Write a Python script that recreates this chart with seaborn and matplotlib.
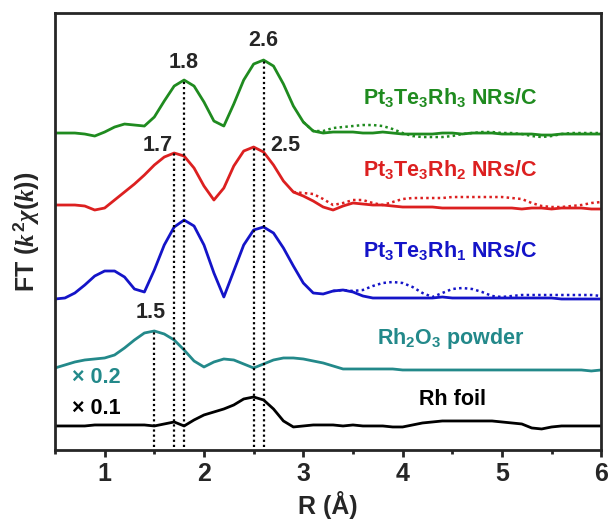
import numpy as np
import seaborn as sns
from matplotlib import pyplot as plt

sns.set_style('ticks')
plt.rcParams['font.family'] = ['Liberation Sans Narrow', 'Liberation Sans', 'DejaVu Sans']
plt.rcParams['font.weight'] = 'bold'
plt.rcParams['mathtext.fontset'] = 'custom'
plt.rcParams['mathtext.rm'] = 'Liberation Sans:bold'
plt.rcParams['mathtext.bf'] = 'Liberation Sans:bold'
plt.rcParams['mathtext.it'] = 'Liberation Serif:bold:italic'
plt.rcParams['lines.solid_joinstyle'] = 'round'

# R grid (Å), 0.5 .. 6.0
r = np.round(np.arange(0.5, 6.01, 0.1), 2)

# FT magnitudes, offset stacked (a.u.)
green = [317, 317, 317, 316, 314, 318,
         323, 326, 325, 324, 333, 349, 364, 370, 364, 348,
         329, 324, 346, 370, 386, 390, 384, 366, 344, 328,
         319, 317, 318, 318, 318, 317, 317, 318, 317, 316,
         316, 316, 316, 317, 317, 316, 317, 317, 317, 316,
         316, 316, 316, 315, 315, 316, 316, 316, 316, 316]
red = [245, 245, 245, 244, 240, 242,
       250, 258, 266, 275, 285, 293, 297, 294, 282, 264,
       250, 262, 284, 299, 303, 298, 285, 269, 258, 254,
       249, 243, 240, 244, 247, 246, 245, 245, 244, 243,
       243, 243, 243, 242, 242, 242, 242, 242, 242, 242,
       242, 241, 242, 242, 241, 242, 242, 242, 241, 241]
blue = [151, 152, 157, 165, 174, 179,
        179, 173, 161, 158, 180, 205, 223, 230, 224, 205,
        177, 153, 179, 205, 220, 223, 217, 202, 184, 167,
        157, 156, 159, 160, 158, 154, 152, 152, 152, 152,
        152, 152, 152, 153, 152, 152, 152, 152, 152, 152,
        152, 152, 152, 152, 152, 151, 151, 151, 151, 151]
teal = [82, 85, 88, 90, 91, 92,
        95, 102, 110, 117, 119, 116, 110, 100, 89, 83,
        88, 91, 90, 86, 82, 86, 90, 92, 92, 91,
        89, 87, 84, 81, 81, 81, 81, 81, 81, 80,
        80, 80, 80, 80, 80, 80, 80, 80, 80, 80,
        80, 80, 80, 80, 80, 80, 80, 80, 79, 80]
black = [24, 24, 24, 24, 25, 25,
         25, 25, 25, 25, 24, 26, 28, 24, 30, 35,
         38, 41, 45, 51, 53, 50, 41, 29, 23, 24,
         25, 25, 25, 24, 25, 24, 24, 24, 23, 23,
         25, 27, 28, 29, 29, 29, 29, 29, 29, 28,
         27, 26, 22, 21, 23, 24, 24, 24, 24, 24]

# fitted curves (dotted), only the tail where they separate from data
r_fit_g = np.round(np.arange(3.0, 6.01, 0.1), 2)
green_fit = [328, 319, 319, 322, 323, 324, 325, 325, 324, 321, 317,
             314, 313, 313, 313, 314, 316, 317, 318, 318, 317,
             317, 316, 314, 313, 314, 316, 317, 317, 317, 317]
r_fit_r = np.round(np.arange(2.9, 6.01, 0.1), 2)
red_fit = [258, 257, 256, 251, 245, 247, 250, 250, 247, 245, 248,
           251, 252, 252, 252, 252, 253, 253, 253, 253, 253,
           253, 252, 251, 247, 244, 243, 243, 244, 245, 247, 248]
r_fit_b = np.round(np.arange(3.3, 6.01, 0.1), 2)
blue_fit = [159, 160, 159, 160, 164, 167, 168, 167, 163, 157,
            153, 157, 161, 162, 161, 158, 154, 153, 154, 155,
            155, 155, 155, 155, 155, 155, 155, 154]

c_green = '#1f8b1f'
c_red = '#dc2020'
c_blue = '#1414c8'
c_teal = '#23898a'

fig = plt.figure(figsize=(6.09, 5.22), dpi=100)
ax = fig.add_axes([0.0903, 0.138, 0.897, 0.837])

lw = 2.0
sns.lineplot(x=r, y=green, color=c_green, lw=lw, ax=ax)
sns.lineplot(x=r, y=red, color=c_red, lw=lw, ax=ax)
sns.lineplot(x=r, y=blue, color=c_blue, lw=lw, ax=ax)
sns.lineplot(x=r, y=teal, color=c_teal, lw=lw, ax=ax)
sns.lineplot(x=r, y=black, color='black', lw=lw, ax=ax)
sns.lineplot(x=r_fit_g, y=green_fit, color=c_green, lw=1.8, ls=(0, (1, 1.3)), ax=ax)
sns.lineplot(x=r_fit_r, y=red_fit, color=c_red, lw=1.8, ls=(0, (1, 1.3)), ax=ax)
sns.lineplot(x=r_fit_b, y=blue_fit, color=c_blue, lw=1.8, ls=(0, (1, 1.3)), ax=ax)

# peak marker lines
peaks = [(1.5, teal), (1.7, red), (1.8, green), (2.5, red), (2.6, green)]
for pos, curve in peaks:
    top = np.interp(pos, r, curve)
    ax.vlines(pos, 3, top, colors='black', lw=1.6, linestyles=(0, (1, 1.3)))

fs = 15.5
ax.text(2.6, 410, '2.6', ha='center', va='center', fontsize=fs, fontweight='bold')
ax.text(1.8, 388, '1.8', ha='center', va='center', fontsize=fs, fontweight='bold')
ax.text(1.53, 305, '1.7', ha='center', va='center', fontsize=fs, fontweight='bold')
ax.text(2.82, 305, '2.5', ha='center', va='center', fontsize=fs, fontweight='bold')
ax.text(1.46, 137, '1.5', ha='center', va='center', fontsize=fs, fontweight='bold')

ax.text(4.48, 353, r'Pt$_3$Te$_3$Rh$_3$ NRs/C', color=c_green, ha='center', va='center', fontsize=fs, fontweight='bold')
ax.text(4.48, 281, r'Pt$_3$Te$_3$Rh$_2$ NRs/C', color=c_red, ha='center', va='center', fontsize=fs, fontweight='bold')
ax.text(4.48, 200, r'Pt$_3$Te$_3$Rh$_1$ NRs/C', color=c_blue, ha='center', va='center', fontsize=fs, fontweight='bold')
ax.text(4.48, 111, r'Rh$_2$O$_3$ powder', color=c_teal, ha='center', va='center', fontsize=fs, fontweight='bold')
ax.text(4.5, 50, 'Rh foil', color='black', ha='center', va='center', fontsize=fs, fontweight='bold')
ax.text(0.67, 72, '× 0.2', color=c_teal, ha='left', va='center', fontsize=fs, fontweight='bold')
ax.text(0.67, 41, '× 0.1', color='black', ha='left', va='center', fontsize=fs, fontweight='bold')

ax.set_xlim(0.5, 6)
ax.set_ylim(0, 437)
ax.set_xticks([1, 2, 3, 4, 5, 6])
ax.set_xticks(np.arange(0.5, 6.01, 0.5), minor=True)
ax.set_yticks([])
ax.tick_params(axis='x', which='major', direction='out', length=5, width=2, labelsize=18)
ax.tick_params(axis='x', which='minor', direction='out', length=3, width=2)
for lab in ax.get_xticklabels():
    lab.set_fontweight('bold')
for s in ax.spines.values():
    s.set_visible(True)
    s.set_linewidth(2)

ax.set_xlabel('R (Å)', fontsize=18, fontweight='bold', labelpad=4)
ax.set_ylabel(r'FT ($k^2\chi(k)$)', fontsize=18, fontweight='bold', labelpad=10)

fig.savefig('out.png', dpi=100)
